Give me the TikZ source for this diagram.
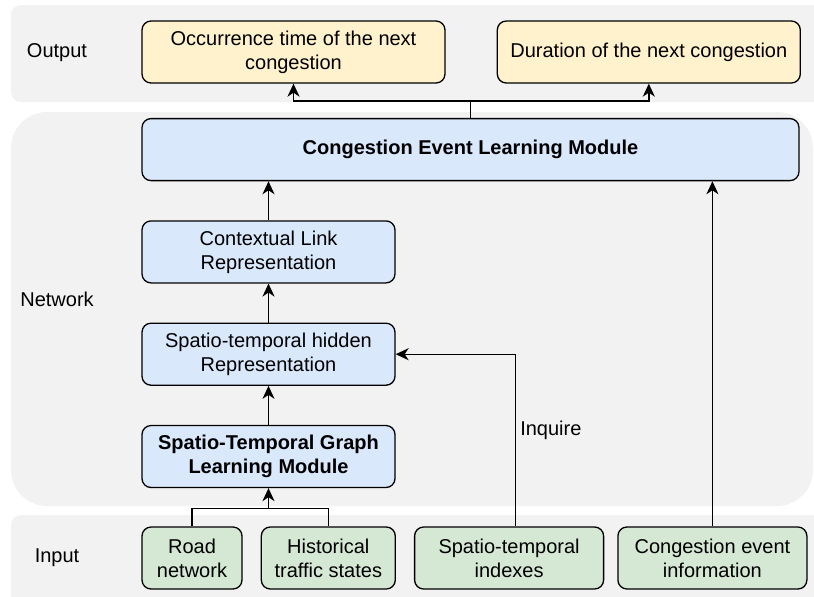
\documentclass[tikz,border=0pt]{standalone}
\usepackage{fontspec}
\setmainfont{Liberation Sans}
\usetikzlibrary{arrows.meta,calc,positioning}
\definecolor{lightblue}{HTML}{DAE8FC}
\definecolor{lightyellow}{HTML}{FFF2CC}
\definecolor{lightgreen}{HTML}{D5E8D4}
\definecolor{panelgray}{HTML}{F2F2F2}
\tikzset{
  banda/.style={
    fill=panelgray,
    draw=none
  },
  modulo/.style={
    rounded corners=4.5pt,
    draw=black,
    line width=0.65pt,
    fill=lightblue,
    align=center,
    minimum width=126.5pt,
    minimum height=31pt,
    inner sep=2pt,
    font=\fontsize{10}{12}\selectfont
  },
  salida/.style={
    modulo,
    fill=lightyellow,
    minimum width=151.5pt
  },
  entrada/.style={
    modulo,
    fill=lightgreen
  },
  etiqueta/.style={
    font=\fontsize{10}{12}\selectfont
  },
  negrita/.style={
    font=\fontsize{10}{12}\selectfont\bfseries
  },
  linea/.style={
    line width=0.7pt,
    black
  },
  arrow/.style={
    -{Stealth[length=6.5pt,width=6pt,inset=2pt]},
    linea
  }
}

\begin{document}
\begin{tikzpicture}[x=0.5pt, y=-0.5pt, node distance=19.5pt]
\clip (0,0) rectangle (814,596);
% fondos
\fill[banda, rounded corners=5pt] (11,5) rectangle (840,102);
\fill[banda, rounded corners=18pt] (11,112) rectangle (813,506);
\fill[banda, rounded corners=5pt] (11,515) rectangle (840,620);
\node[etiqueta] (lblout) at (57,53) {Output};
\node[etiqueta] (lblnet) at (57,299) {Network};
\node[etiqueta] (lblin) at (57,558) {Input};
% red
\node[modulo, negrita] (stglm) at (268.5,456.5) {Spatio-Temporal Graph\\Learning Module};
\node[modulo, above=of stglm] (hidden) {Spatio-temporal hidden\\Representation};
\node[modulo, above=of hidden] (ctx) {Contextual Link\\Representation};
\node[modulo, negrita, above=of ctx.north west, anchor=south west, minimum width=328.5pt] (celm) {Congestion Event Learning Module};
% salida
\node[salida] (occ) at (293.5,52) {Occurrence time of the next\\congestion};
\node[salida, right=25.5pt of occ] (dur) {Duration of the next congestion};
% entrada
\node[entrada, minimum width=50pt] (road) at (192,558) {Road\\network};
\node[entrada, right=9pt of road, minimum width=67pt] (hist) {Historical\\traffic states};
\node[entrada, right=9pt of hist, minimum width=94.5pt] (sti) {Spatio-temporal\\indexes};
\node[entrada, right=6.5pt of sti, minimum width=94.5pt] (cei) {Congestion event\\information};
% conexiones
\coordinate (outsplit) at ([yshift=8.5pt]celm.north);
\draw[linea] (celm.north) -- (outsplit);
\draw[arrow] (outsplit) -| (occ.south);
\draw[arrow] (outsplit) -| (dur.south);
\draw[arrow] (ctx.north) -- (ctx.north |- celm.south);
\draw[arrow] (hidden.north) -- (ctx.south);
\draw[arrow] (stglm.north) -- (hidden.south);
\coordinate (insplit) at ($(stglm.south |- road.north)+(0,9pt)$);
\draw[linea] (road.north) |- (insplit) -| (hist.north);
\draw[arrow] (insplit) -- (stglm.south);
\draw[arrow] ([xshift=3.25pt]sti.north) |- node[pos=0.28, right, etiqueta, inner sep=2pt] (inq) {Inquire} (hidden.east);
\draw[arrow] (cei.north) -- (cei.north |- celm.south);
\end{tikzpicture}
\end{document}
